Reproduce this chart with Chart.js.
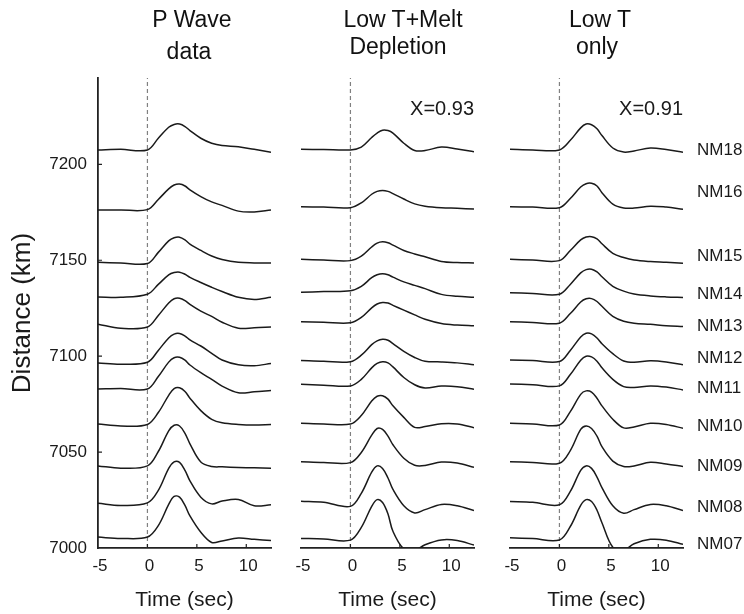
<!DOCTYPE html>
<html>
<head>
<meta charset="utf-8">
<script src="https://cdn.jsdelivr.net/npm/chart.js@4.4.1/dist/chart.umd.min.js"></script>
<style>
html,body{margin:0;padding:0;background:#fff;}
#wrap{position:relative;width:744px;height:614px;overflow:hidden;font-family:'Liberation Sans',Arial,Helvetica,sans-serif;color:#111;}
canvas{position:absolute;top:0;}
.t{position:absolute;font-size:23px;line-height:23px;white-space:nowrap;transform:translateX(-50%);}
</style>
</head>
<body>
<div id="wrap">
<canvas id="c0" width="285" height="614" style="left:0px"></canvas>
<canvas id="c1" width="205" height="614" style="left:285px"></canvas>
<canvas id="c2" width="254" height="614" style="left:490px"></canvas>
<div class="t" style="left:192px;top:8px">P Wave</div>
<div class="t" style="left:189px;top:40px">data</div>
<div class="t" style="left:403px;top:8px">Low T+Melt</div>
<div class="t" style="left:398px;top:35px">Depletion</div>
<div class="t" style="left:600px;top:8px">Low T</div>
<div class="t" style="left:597px;top:35px">only</div>
</div>
<script>
// ---- data ----
const stations = ['NM18','NM16','NM15','NM14','NM13','NM12','NM11','NM10','NM09','NM08','NM07'];
const baseDist = [7207.5, 7176.2, 7148.6, 7130.9, 7115.2, 7096.5, 7082.9, 7064.1, 7042.8, 7023.5, 7005.7];
const labelDist = [7207.5, 7185.6, 7152.2, 7132.4, 7115.5, 7098.9, 7083.4, 7063.3, 7042.8, 7021.4, 7001.8];
const times = [-5, -2.7, 0, 1.1, 2.15, 2.7, 3.25, 3.8, 4.3, 5.4, 6.5, 7.55, 9.2, 10.8, 12.5];
const xTicks = [-5, 0, 5, 10];
const yTicks = [7000, 7050, 7100, 7150, 7200];
const panelTitles = ['P Wave data', 'Low T+Melt Depletion', 'Low T only'];
const fitLabels = ['', 'X=0.93', 'X=0.91'];

// offsets (km) of each trace from its station distance, per panel
const dataWave = [
  [0, 0.3, 0, 6.1, 11.8, 13.3, 13.5, 12.2, 10.1, 6.1, 3.5, 2.3, 1.7, 0.3, -1.2],
  [0, 0, 0.2, 5.5, 11, 13, 13.5, 12.5, 10.5, 7, 4.2, 2.4, -0.6, -1, 0],
  [0.3, 0, -0.3, 5.5, 11.5, 13.1, 13.4, 12, 9.8, 6.5, 3.6, 1.8, 0.3, 0, -0.1],
  [0, -0.2, 1.4, 6.5, 11.5, 12.7, 12.9, 11.8, 10.2, 7.5, 5, 2.8, -0.2, -1.3, -0.2],
  [1.5, -0.6, 0, 6, 12.5, 14.7, 15, 13.8, 11.8, 8.3, 5.5, 2.5, -0.6, -0.4, 0],
  [0, -0.7, 0.3, 6.5, 13, 15, 15.3, 14, 12, 8.8, 5, 1.5, -1, -1.5, -0.3],
  [0, 0.2, 0, 6.5, 14, 16.3, 16.5, 15, 12.5, 8.5, 5, 1.5, -2, -1.5, -0.8],
  [0.5, -0.5, 0.3, 6.5, 15.5, 19, 19.4, 17.5, 14, 7.5, 3, 1.2, 0.3, 0, 0.3],
  [0, -1.2, 0, 7.5, 18.3, 21.2, 20.8, 17, 11.5, 2, -0.3, -0.5, -0.8, -1, -1.2],
  [-0.2, -1.3, 0, 6.5, 18, 21.4, 21.1, 17, 11.5, 3, -0.5, 1, 1.8, -1.5, -1],
  [0, -0.7, 0, 6, 17, 21.2, 20.8, 16.5, 11, 2.5, -2.8, -2, -0.5, -1.2, -1.8]
];
const meltWave = [
  [0.3, 0.2, 0, 1.5, 6.5, 8.8, 10.3, 10.1, 8.8, 3.5, -0.3, -0.3, 1.5, 0.5, -1],
  [1.7, 1.5, 1.2, 3.7, 8.2, 9.7, 10.2, 9.7, 8.5, 5.7, 3.2, 2, 1.2, 0.9, 0.5],
  [1.9, 1.5, 1.2, 3.5, 8.3, 10.3, 11, 10.5, 9.3, 6.5, 4.7, 3.2, 0.8, 0.2, 0],
  [2.4, 2.8, 3.2, 5.5, 10, 11.5, 12, 11.5, 10.3, 7.8, 6, 4.3, 1.3, 0.3, -0.2],
  [2.8, 2.5, 2.2, 5, 10, 12, 12.8, 12.5, 11.3, 8.8, 6.3, 4, 1.8, 1, 0.6],
  [1.2, 0.8, 0.6, 4, 9.5, 11.5, 12.3, 11.8, 10, 6, 2.8, 0.8, 0.5, 0, -1],
  [2.4, 2, 1.6, 5, 11, 13.3, 14.2, 13.6, 11.5, 6, 2.2, 0.5, 1.5, 1.2, -0.2],
  [0.9, 0.6, 0.5, 5, 12.5, 15, 15.3, 13.5, 10, 4, -1.2, -0.8, 0.7, 0.6, -1.4],
  [2.2, 1.8, 1.7, 7, 16, 19.5, 19, 15.5, 11, 4, 0.3, 0.2, 2, 1.5, -0.7],
  [0.9, 0.3, -1.8, 5, 16, 19.3, 18, 13, 7, -1.5, -5.2, -3.5, -0.8, -1.5, -4],
  [-0.7, -1, -1.6, 5, 16, 19.5, 18, 12, 3, -6.2, -7, -4, -1.5, -1.8, -4.2]
];
const lowTWave = [
  [0.3, 0, 0, 5, 11.5, 13.5, 13.1, 11, 7.5, 1, -1.1, -0.5, 1, 0.2, -1.2],
  [1.7, 1.5, 1.2, 6, 12, 13.7, 13.9, 12.5, 9, 3, 1, 1, 2, 1.5, 0.4],
  [1.9, 1.5, 1.2, 6.5, 12, 13.5, 13.7, 12.5, 10, 5, 2.8, 1.5, 0.7, 0.3, -0.2],
  [2.2, 1.8, 1.4, 6.5, 12.5, 14.2, 14.4, 13, 10.5, 5.5, 3, 1.5, 0.5, 0, -0.3],
  [2.8, 2.4, 2, 7, 13, 14.7, 14.8, 13.3, 10.8, 5.5, 3, 2, 1.4, 0.7, 0.2],
  [1.5, 1.2, 0.7, 6.5, 13.5, 15.4, 15.1, 13, 10, 4.8, 1, 0.3, 1.1, 0.5, -1],
  [2.6, 2.2, 1.6, 7.5, 15, 17.1, 16.7, 14.5, 11, 5, 1.2, 0.8, 1.6, 1, -0.5],
  [0.9, 0.6, 0, 7, 16, 17.8, 17.2, 14, 10, 3, -1.5, -1, 0.9, 0.3, -1.7],
  [2.2, 1.8, 1.4, 8, 19, 20.8, 19.5, 15.5, 10, 2.5, -0.3, 0, 1.9, 1, -0.3],
  [0.7, 0.3, -1, 6, 17, 19.3, 18, 13.5, 8, -1.5, -5.4, -3.5, -0.8, -1.5, -4],
  [-0.4, -0.8, -1.5, 5.5, 16.5, 19.5, 18.5, 14, 7.5, -5.3, -6.8, -3.5, -1.2, -1.6, -3.8]
];
const X_MIN = -5, X_MAX = 12.5, Y_MIN = 7000, Y_MAX = 7245;

// ---- drawing ----
const FONT = "'Liberation Sans', Arial, Helvetica, sans-serif";
const INK = '#1a1a1a';

const textPlugin = {
  id: 'sideText',
  afterDraw(chart, args, opts) {
    const ctx = chart.ctx, ca = chart.chartArea, ys = chart.scales.y, xs = chart.scales.x;
    ctx.save();
    // inward tick marks
    ctx.strokeStyle = '#222';
    ctx.lineWidth = 1.2;
    ctx.beginPath();
    xTicks.forEach(v => {
      const px = xs.getPixelForValue(v);
      if (px > ca.left + 2) { ctx.moveTo(px, ca.bottom); ctx.lineTo(px, ca.bottom - 4); }
    });
    if (opts.yticks) {
      yTicks.forEach(v => {
        const py = ys.getPixelForValue(v);
        if (py < ca.bottom - 2) { ctx.moveTo(ca.left, py); ctx.lineTo(ca.left + 4, py); }
      });
    }
    ctx.stroke();
    ctx.fillStyle = INK;
    if (opts.fit) {
      ctx.font = '20px ' + FONT;
      ctx.textAlign = 'right';
      ctx.textBaseline = 'middle';
      ctx.fillText(opts.fit, ca.right, ca.top + 31);
    }
    if (opts.names) {
      ctx.font = '17px ' + FONT;
      ctx.textAlign = 'left';
      ctx.textBaseline = 'middle';
      stations.forEach((s, i) => ctx.fillText(s, ca.right + 14, ys.getPixelForValue(labelDist[i])));
    }
    ctx.restore();
  }
};

function makeChart(id, waves, pad, showY, fit, names) {
  const datasets = stations.map((s, i) => ({
    label: s,
    data: times.map((t, j) => ({x: t, y: baseDist[i] + waves[i][j]})),
    borderColor: INK, borderWidth: 1.5, pointRadius: 0,
    tension: 0.35, fill: false
  }));
  datasets.push({
    label: 'onset',
    data: [{x: 0, y: Y_MIN}, {x: 0, y: Y_MAX}],
    borderColor: '#808080', borderWidth: 1.2, borderDash: [4, 3], pointRadius: 0, fill: false
  });
  const yScale = {
    type: 'linear', min: Y_MIN, max: Y_MAX, display: showY,
    afterBuildTicks: s => { s.ticks = yTicks.map(v => ({value: v})); },
    ticks: {font: {size: 17, family: FONT}, color: INK, padding: 11, callback: v => String(v)},
    grid: {display: false, drawTicks: false},
    border: {display: true, color: '#222', width: 1.8},
    title: {display: true, text: 'Distance (km)', font: {size: 26, family: FONT}, color: INK, padding: {top: 7, bottom: 0}}
  };
  if (showY) yScale.afterFit = s => { s.width = 98; };
  return new Chart(document.getElementById(id), {
    type: 'line',
    data: {datasets},
    options: {
      responsive: false, animation: false, devicePixelRatio: 1,
      layout: {padding: pad},
      plugins: {legend: {display: false}, tooltip: {enabled: false}, sideText: {fit, names, yticks: showY}},
      scales: {
        x: {
          type: 'linear', min: X_MIN, max: X_MAX,
          afterBuildTicks: s => { s.ticks = xTicks.map(v => ({value: v})); },
          afterFit: s => { s.height = 66; },
          ticks: {font: {size: 17, family: FONT}, color: INK, padding: 8, labelOffset: 2, maxRotation: 0, autoSkip: false, callback: v => String(v)},
          grid: {display: false, drawTicks: false},
          border: {display: true, color: '#222', width: 1.8},
          title: {display: true, text: 'Time (sec)', font: {size: 21, family: FONT}, color: INK, padding: {top: 0, bottom: 1}}
        },
        y: yScale
      }
    },
    plugins: [textPlugin]
  });
}

makeChart('c0', dataWave, {left: 0, right: 14, top: 78, bottom: 0}, true, fitLabels[0], false);
makeChart('c1', meltWave, {left: 16, right: 16, top: 78, bottom: 0}, false, fitLabels[1], false);
makeChart('c2', lowTWave, {left: 20, right: 61, top: 78, bottom: 0}, false, fitLabels[2], true);
</script>
</body>
</html>
